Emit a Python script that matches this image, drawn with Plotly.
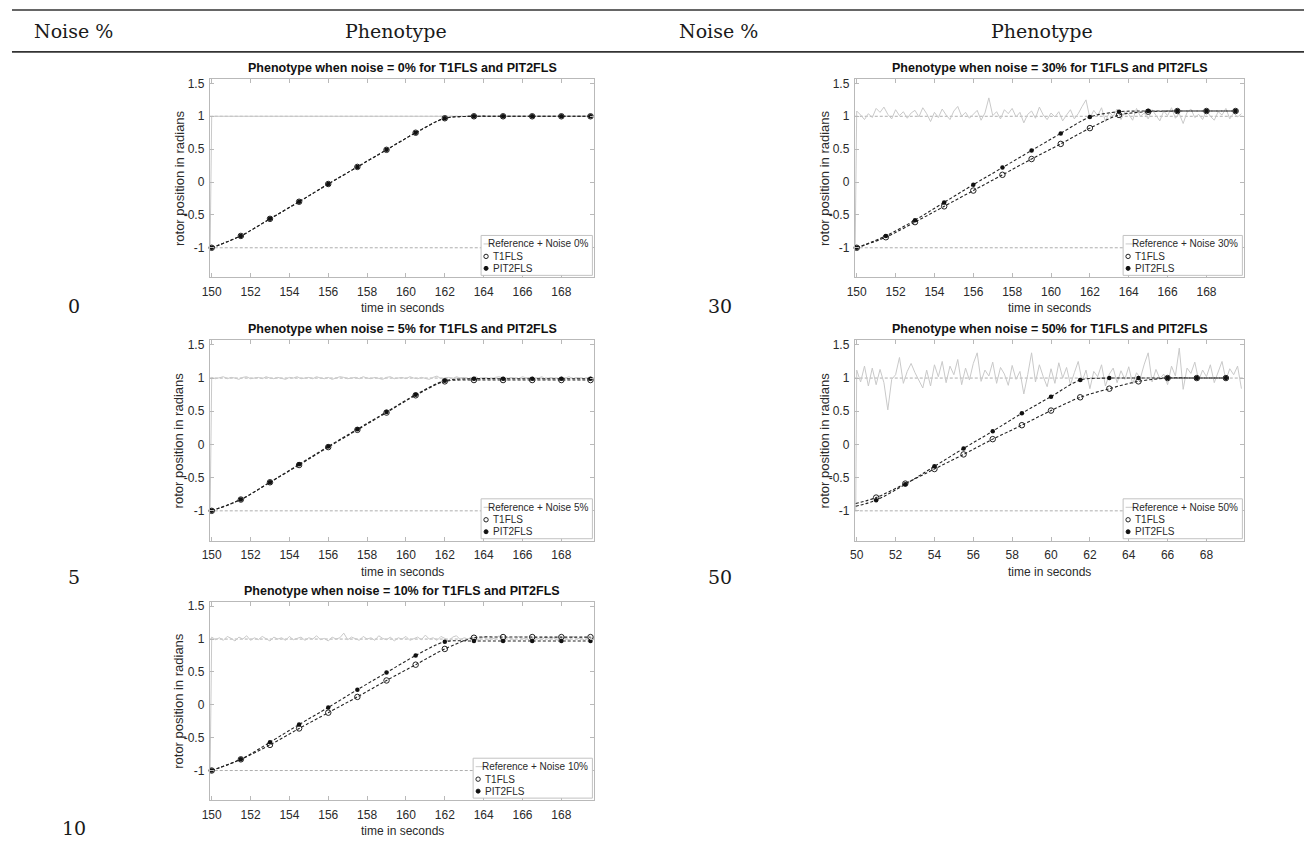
import numpy as np
import plotly.graph_objects as go

W, H = 1304, 845

# ---------------- data ----------------
HEADERS = ["Noise %", "Phenotype", "Noise %", "Phenotype"]
NOISE_LEVELS = [0, 5, 10, 30, 50]
SETPOINT_LEVELS = [-1.0, 1.0]
LEGEND_NAMES = ["Reference + Noise {}%", "T1FLS", "PIT2FLS"]

T_MARK_150 = [150.0, 151.5, 153.0, 154.5, 156.0, 157.5, 159.0, 160.5, 162.0, 163.5, 165.0, 166.5, 168.0, 169.5]
T_LINE_50 = [49.95, 51.0, 52.5, 54.0, 55.5, 57.0, 58.5, 60.0, 61.5, 63.0, 64.5, 66.0, 67.5, 69.0]

T1_0 = [-1.00, -0.82, -0.56, -0.30, -0.03, 0.23, 0.49, 0.75, 0.97, 1.00, 1.00, 1.00, 1.00, 1.00]
PIT_0 = [-1.00, -0.82, -0.56, -0.30, -0.03, 0.23, 0.49, 0.75, 0.97, 1.00, 1.00, 1.00, 1.00, 1.00]

T1_5 = [-1.00, -0.83, -0.57, -0.31, -0.04, 0.22, 0.48, 0.74, 0.95, 0.97, 0.97, 0.97, 0.97, 0.97]
PIT_5 = [-1.00, -0.83, -0.57, -0.30, -0.03, 0.23, 0.49, 0.75, 0.96, 0.99, 0.99, 0.99, 0.99, 0.99]

T1_10 = [-1.00, -0.83, -0.61, -0.36, -0.12, 0.12, 0.37, 0.61, 0.85, 1.02, 1.03, 1.03, 1.03, 1.03]
PIT_10 = [-1.00, -0.83, -0.57, -0.30, -0.04, 0.23, 0.49, 0.75, 0.96, 0.97, 0.97, 0.97, 0.97, 0.97]

T1_30 = [-1.00, -0.84, -0.61, -0.37, -0.13, 0.11, 0.35, 0.58, 0.82, 1.02, 1.07, 1.08, 1.08, 1.08]
PIT_30 = [-1.00, -0.82, -0.58, -0.31, -0.04, 0.22, 0.48, 0.74, 0.99, 1.07, 1.08, 1.08, 1.08, 1.08]

T1_50 = [-0.89, -0.80, -0.59, -0.37, -0.15, 0.08, 0.29, 0.51, 0.71, 0.84, 0.95, 1.00, 1.00, 1.00]
PIT_50 = [-0.93, -0.84, -0.60, -0.33, -0.06, 0.20, 0.47, 0.72, 0.97, 1.00, 1.00, 1.00, 1.00, 1.00]

T_REF_0 = [149.92, 150.0, 170.0]
REF_0 = [-1.0, 1.0, 1.0]

REF_5 = [-1.0,
    1.01, 0.99, 1.00, 1.02, 0.99, 1.01, 1.00, 0.98, 1.01, 1.02,
    0.99, 1.00, 1.01, 0.99, 1.02, 1.00, 0.99, 1.01, 1.00, 0.98,
    1.01, 1.00, 1.02, 0.99, 1.00, 1.01, 0.99, 1.02, 1.00, 0.99,
    1.01, 0.98, 1.00, 1.02, 1.01, 0.99, 1.00, 1.01, 0.99, 1.02,
    1.00, 0.99, 1.01, 1.00, 0.98, 1.01, 1.02, 0.99, 1.00, 1.01,
    0.99, 1.02, 1.00, 0.99, 1.01, 1.00, 0.98, 1.01, 1.03, 0.99,
    1.00, 1.01, 0.99, 1.02, 1.00, 1.01, 0.99, 1.00, 1.02, 0.98,
    1.01, 1.00, 0.99, 1.01, 1.02, 1.00, 0.99, 1.01, 1.00, 0.99,
    1.02, 1.00, 1.01, 0.99, 1.00, 1.02, 0.98, 1.01, 1.00, 0.99,
    1.01, 1.00, 1.02, 0.99, 1.01, 1.00, 0.99, 1.01, 1.00, 1.01]

REF_10 = [-1.0,
    1.03, 0.99, 1.02, 0.98, 1.04, 1.01, 0.97, 1.03, 1.00, 1.05,
    0.98, 1.02, 0.99, 1.04, 1.01, 0.97, 1.03, 1.00, 1.02, 0.98,
    1.04, 0.99, 1.01, 1.03, 0.98, 1.02, 1.00, 1.05, 0.99, 1.01,
    0.97, 1.03, 1.00, 1.02, 1.09, 0.99, 1.03, 1.01, 0.98, 1.04,
    1.00, 1.02, 0.98, 1.05, 1.01, 0.99, 1.03, 0.97, 1.02, 1.00,
    1.04, 0.98, 1.01, 1.03, 0.99, 1.06, 1.00, 1.02, 0.98, 1.04,
    1.01, 0.97, 1.03, 1.05, 0.99, 1.02, 1.00, 1.04, 0.98, 1.01,
    1.03, 0.99, 1.02, 1.00, 1.05, 0.98, 1.03, 1.01, 0.99, 1.04,
    1.00, 1.02, 0.97, 1.03, 1.01, 0.99, 1.04, 1.00, 1.02, 0.98,
    1.03, 1.01, 0.99, 1.04, 1.00, 1.02, 0.98, 1.03, 1.01, 1.00]

REF_30 = [-1.0,
    1.08, 1.02, 0.95, 1.04, 0.98, 1.12, 1.06, 1.14, 1.03, 0.96,
    1.10, 1.01, 1.07, 0.97, 1.05, 1.09, 0.99, 1.13, 1.04, 0.92,
    1.06, 0.98, 1.11, 1.02, 0.95, 1.08, 1.15, 1.00, 1.06, 0.97,
    1.03, 1.09, 0.94, 1.05, 1.28, 1.01, 1.07, 0.96, 1.10, 1.04,
    1.12, 0.99, 1.06, 0.90, 1.03, 1.08, 0.97, 1.14, 1.02, 0.95,
    1.05, 0.99, 1.07, 0.93, 1.02, 1.10, 0.96, 1.04, 1.15, 1.25,
    0.97, 1.09, 1.01, 1.13, 0.92, 1.06, 1.00, 1.11, 0.95, 1.07,
    1.03, 0.94, 1.12, 1.00, 1.05, 0.96, 1.10, 1.02, 0.93, 1.08,
    1.01, 1.13, 0.97, 1.04, 0.89, 1.06, 1.11, 0.98, 1.03, 0.95,
    1.09, 1.00, 0.94, 1.07, 1.02, 1.12, 0.96, 1.05, 0.99, 1.04]

REF_50 = [-1.0,
    1.12, 0.94, 1.18, 0.88, 1.15, 0.90, 1.13, 0.93, 0.52, 0.98,
    1.05, 1.31, 0.92, 1.10, 1.22, 1.08, 0.96, 0.85, 1.12, 0.88,
    1.20, 1.02, 1.25, 0.93, 1.18, 1.05, 1.28, 0.90, 1.15, 0.97,
    1.22, 1.38, 0.95, 1.12, 1.03, 1.24, 0.92, 1.16, 1.06, 0.89,
    1.19, 0.98, 1.10, 0.76, 1.05, 1.38, 0.94, 1.20, 1.02, 0.87,
    1.14, 0.92, 1.23, 1.00, 1.16, 0.90, 1.08, 1.25, 0.95, 1.12,
    0.84, 1.10, 1.02, 1.20, 0.88, 1.06, 1.15, 0.93, 1.11, 0.98,
    1.17, 0.91, 1.08, 1.00, 1.21, 1.38, 0.94, 1.13, 0.99, 1.06,
    0.90, 1.18, 1.03, 1.45, 0.83, 1.15, 1.07, 1.24, 0.96, 1.12,
    1.02, 1.20, 0.93, 1.10, 1.25, 0.97, 1.14, 1.05, 1.18, 0.84]

X_TICKS_150 = [150, 152, 154, 156, 158, 160, 162, 164, 166, 168]
X_TICKS_50 = [50, 52, 54, 56, 58, 60, 62, 64, 66, 68]
Y_TICKS = [-1, -0.5, 0, 0.5, 1, 1.5]
Y_TICK_TEXT = ["-1", "-0.5", "0", "0.5", "1", "1.5"]

t_ref_150 = [149.92] + list(np.round(np.arange(150.0, 170.0, 0.2), 2))
t_ref_50 = [49.95] + list(np.round(np.arange(50.0, 70.0, 0.2), 2))

# ---------------- layout helpers ----------------
def fx(p):
    return p / W

def fy(p):
    return 1 - p / H

COLS = [(203, 590), (852, 1244)]
ROWS = [(77, 276), (339, 540), (601, 800)]

panels = [
    dict(noise=0, col=0, row=0, tl=T_MARK_150, t1=T1_0, pit=PIT_0, mk0=0, tr=T_REF_0, ry=REF_0,
         xr=[149.9, 169.7], xt=X_TICKS_150),
    dict(noise=5, col=0, row=1, tl=T_MARK_150, t1=T1_5, pit=PIT_5, mk0=0, tr=t_ref_150, ry=REF_5,
         xr=[149.9, 169.7], xt=X_TICKS_150),
    dict(noise=10, col=0, row=2, tl=T_MARK_150, t1=T1_10, pit=PIT_10, mk0=0, tr=t_ref_150, ry=REF_10,
         xr=[149.9, 169.7], xt=X_TICKS_150),
    dict(noise=30, col=1, row=0, tl=T_MARK_150, t1=T1_30, pit=PIT_30, mk0=0, tr=t_ref_150, ry=REF_30,
         xr=[149.9, 169.95], xt=X_TICKS_150),
    dict(noise=50, col=1, row=1, tl=T_LINE_50, t1=T1_50, pit=PIT_50, mk0=1, tr=t_ref_50, ry=REF_50,
         xr=[49.9, 69.95], xt=X_TICKS_50),
]

FONT = "Liberation Sans"
SERIF = "DejaVu Serif"
AX_COL = "#b9b9b9"
TXT_COL = "#2a2a2a"
YR = [-1.45, 1.57]
TICK_SIZE = 12
XLABEL_SIZE = 12
YLABEL_SIZE = 13

fig = go.Figure()
shapes = []
annotations = []
layout = {}

for i, p in enumerate(panels, start=1):
    xs = "x" if i == 1 else f"x{i}"
    ys = "y" if i == 1 else f"y{i}"
    xk = "xaxis" if i == 1 else f"xaxis{i}"
    yk = "yaxis" if i == 1 else f"yaxis{i}"
    L, R = COLS[p["col"]]
    T, B = ROWS[p["row"]]

    # setpoint dashed lines
    for lvl in SETPOINT_LEVELS:
        fig.add_trace(go.Scatter(x=p["xr"], y=[lvl, lvl], xaxis=xs, yaxis=ys, mode="lines",
                                 line=dict(color="#a5a5a5", width=0.9, dash="3px,2px"),
                                 showlegend=False, hoverinfo="skip"))
    # noisy reference
    fig.add_trace(go.Scatter(x=p["tr"], y=p["ry"], xaxis=xs, yaxis=ys, mode="lines",
                             line=dict(color="#c9c9c9", width=1),
                             name=LEGEND_NAMES[0].format(p["noise"]), showlegend=False))
    # controller curves
    for yv in (p["t1"], p["pit"]):
        fig.add_trace(go.Scatter(x=p["tl"], y=yv, xaxis=xs, yaxis=ys, mode="lines",
                                 line=dict(color="#222222", width=1.1, dash="3px,2px", shape="spline",
                                           smoothing=0.8),
                                 showlegend=False, hoverinfo="skip"))
    k = p["mk0"]
    fig.add_trace(go.Scatter(x=p["tl"][k:], y=p["t1"][k:], xaxis=xs, yaxis=ys, mode="markers",
                             marker=dict(symbol="circle-open", size=5.5, color="#222222",
                                         line=dict(width=1, color="#222222")),
                             name="T1FLS", showlegend=False, cliponaxis=False))
    fig.add_trace(go.Scatter(x=p["tl"][k:], y=p["pit"][k:], xaxis=xs, yaxis=ys, mode="markers",
                             marker=dict(symbol="circle", size=4.5, color="#111111"),
                             name="PIT2FLS", showlegend=False, cliponaxis=False))

    layout[xk] = dict(domain=[fx(L), fx(R)], anchor=ys, range=p["xr"], tickvals=p["xt"],
                      showline=True, linecolor=AX_COL, linewidth=1, mirror="allticks",
                      ticks="inside", ticklen=4, tickcolor=AX_COL, showgrid=False, zeroline=False,
                      tickfont=dict(family=FONT, size=TICK_SIZE, color=TXT_COL), ticklabelstandoff=3)
    layout[yk] = dict(domain=[fy(B), fy(T)], anchor=xs, range=YR, tickvals=Y_TICKS,
                      ticktext=Y_TICK_TEXT,
                      showline=True, linecolor=AX_COL, linewidth=1, mirror="allticks",
                      ticks="inside", ticklen=4, tickcolor=AX_COL, showgrid=False, zeroline=False,
                      tickfont=dict(family=FONT, size=TICK_SIZE, color=TXT_COL), ticklabelstandoff=2)

    cx = (L + R) / 2
    annotations.append(dict(text=f"<b>Phenotype when noise = {p['noise']}% for T1FLS and PIT2FLS</b>",
                            x=fx(cx), y=fy(T - 11), xref="paper", yref="paper", showarrow=False,
                            xanchor="center", yanchor="middle",
                            font=dict(family=FONT, size=12.5, color="#111111")))
    annotations.append(dict(text="time in seconds", x=fx(cx), y=fy(B + 31), xref="paper", yref="paper",
                            showarrow=False, xanchor="center", yanchor="middle",
                            font=dict(family=FONT, size=XLABEL_SIZE, color=TXT_COL)))
    annotations.append(dict(text="rotor position in radians", x=fx(L - 31), y=fy((T + B) / 2),
                            xref="paper", yref="paper", showarrow=False, textangle=-90,
                            xanchor="center", yanchor="middle",
                            font=dict(family=FONT, size=YLABEL_SIZE, color=TXT_COL)))

    # legend box (bottom-right inside axes)
    lw = 112 if p["noise"] < 10 else 120
    lr = R - 2
    ll = lr - lw
    lb = B - 2
    lt = lb - 40
    shapes.append(dict(type="rect", xref="paper", yref="paper", x0=fx(ll), x1=fx(lr), y0=fy(lb), y1=fy(lt),
                       line=dict(color="#c2c2c2", width=1), fillcolor="white", layer="above"))
    shapes.append(dict(type="line", xref="paper", yref="paper", x0=fx(ll + 2.5), x1=fx(ll + 13),
                       y0=fy(lt + 8.5), y1=fy(lt + 8.5), line=dict(color="#c9c9c9", width=1), layer="above"))
    shapes.append(dict(type="circle", xref="paper", yref="paper", xsizemode="pixel", ysizemode="pixel",
                       xanchor=fx(ll + 5), yanchor=fy(lt + 21), x0=-2.2, x1=2.2, y0=-2.2, y1=2.2,
                       line=dict(color="#222222", width=1), fillcolor="white", layer="above"))
    shapes.append(dict(type="circle", xref="paper", yref="paper", xsizemode="pixel", ysizemode="pixel",
                       xanchor=fx(ll + 5), yanchor=fy(lt + 33), x0=-2, x1=2, y0=-2, y1=2,
                       line=dict(color="#111111", width=1), fillcolor="#111111", layer="above"))
    annotations.append(dict(text=LEGEND_NAMES[0].format(p["noise"]), x=fx(lr - 2), y=fy(lt + 8.5),
                            xref="paper", yref="paper", showarrow=False, xanchor="right", yanchor="middle",
                            font=dict(family=FONT, size=10, color=TXT_COL)))
    for j, nm in enumerate(LEGEND_NAMES[1:]):
        annotations.append(dict(text=nm, x=fx(ll + 10), y=fy(lt + 21 + 12 * j), xref="paper", yref="paper",
                                showarrow=False, xanchor="left", yanchor="middle",
                                font=dict(family=FONT, size=10, color=TXT_COL)))

    # row label in table
    lab_x = 66 if p["col"] == 0 else 716
    lab_y = [305, 576, 828][p["row"]]
    annotations.append(dict(text=str(p["noise"]), x=fx(lab_x), y=fy(lab_y), xref="paper", yref="paper",
                            showarrow=False, xanchor="center", yanchor="middle",
                            font=dict(family=SERIF, size=19, color="#1a1a1a")))

# table header
for txt, cx in zip(HEADERS, [66, 390, 715, 1040]):
    annotations.append(dict(text=txt, x=fx(cx), y=fy(29), xref="paper", yref="paper", showarrow=False,
                            xanchor="center", yanchor="middle",
                            font=dict(family=SERIF, size=19, color="#1a1a1a")))
for yl in (8, 50):
    shapes.append(dict(type="line", xref="paper", yref="paper", x0=fx(4), x1=1, y0=fy(yl), y1=fy(yl),
                       line=dict(color="#333333", width=1.6)))

fig.update_layout(width=W, height=H, margin=dict(l=0, r=0, t=0, b=0), paper_bgcolor="white",
                  plot_bgcolor="white", showlegend=False, shapes=shapes, annotations=annotations, **layout)

fig.write_html("out.html")
